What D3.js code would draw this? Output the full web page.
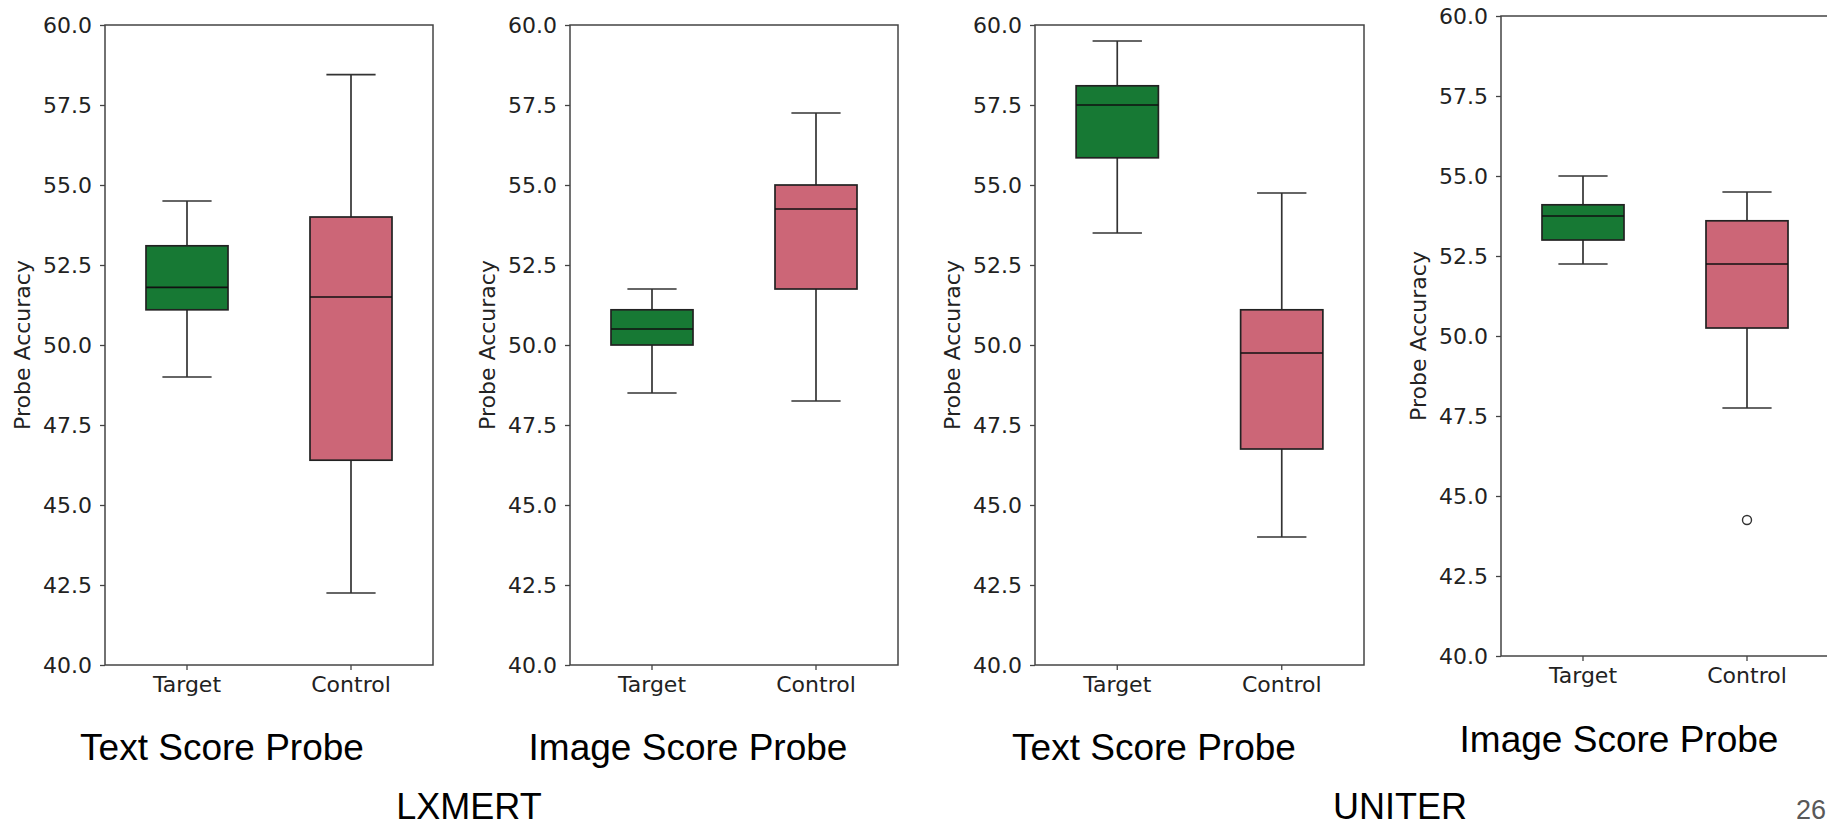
<!DOCTYPE html>
<html>
<head>
<meta charset="utf-8">
<script src="https://cdn.jsdelivr.net/npm/d3@7"></script>
<style>
  body { margin: 0; background: #fff; overflow: hidden; }
  .tick text { font-family: "DejaVu Sans", sans-serif; font-size: 22px; fill: #222; }
  .tick line { stroke: #444; stroke-width: 1.3; }
  .ylabel { font-family: "DejaVu Sans", sans-serif; font-size: 22px; fill: #222; }
  .title { font-family: "Liberation Sans", Arial, sans-serif; font-size: 37px; fill: #000; }
  .model { font-family: "Liberation Sans", Arial, sans-serif; font-size: 36px; fill: #000; }
</style>
</head>
<body>
<script>
// five-number summaries per panel: [whisker low, Q1, median, Q3, whisker high]
var panelTitles = ["Text Score Probe", "Image Score Probe", "Text Score Probe", "Image Score Probe"];
var groups = ["Target", "Control"];
var targetStats = [
    [49.0, 51.1, 51.8, 53.1, 54.5],
    [48.5, 50.0, 50.5, 51.1, 51.75],
    [53.5, 55.85, 57.5, 58.1, 59.5],
    [52.25, 53.0, 53.75, 54.1, 55.0]
];
var controlStats = [
    [42.25, 46.4, 51.5, 54.0, 58.45],
    [48.25, 51.75, 54.25, 55.0, 57.25],
    [44.0, 46.75, 49.75, 51.1, 54.75],
    [47.75, 50.25, 52.25, 53.6, 54.5]
];
var controlOutliers = [[], [], [], [44.25]];
var yTicks = [40.0, 42.5, 45.0, 47.5, 50.0, 52.5, 55.0, 57.5, 60.0];
var models = ["LXMERT", "UNITER"];
var pageNumber = "26";

var colors = {Target: "#177934", Control: "#cc6677"};

// layout of each subplot
var frames = [
    {left: 105, top: 25, w: 328, title: {x: 222, y: 760}},
    {left: 570, top: 25, w: 328, title: {x: 688, y: 760}},
    {left: 1035, top: 25, w: 329, title: {x: 1154, y: 760}},
    {left: 1501, top: 16, w: 328, title: {x: 1619, y: 752}}
];
var plotH = 640;
var modelPos = [{x: 469, y: 819}, {x: 1400, y: 819}];

var svg = d3.select("body").append("svg")
    .attr("width", 1827)
    .attr("height", 827);

frames.forEach(function(f, p) {
    var y = d3.scaleLinear()
        .domain([40, 60])
        .range([f.top + plotH, f.top]);
    var x = d3.scaleBand()
        .domain(groups)
        .range([f.left, f.left + f.w]);
    var bw = x.bandwidth() * 0.5;
    var capW = x.bandwidth() * 0.3;

    var g = svg.append("g");

    var data = [
        {group: "Target", s: targetStats[p], out: []},
        {group: "Control", s: controlStats[p], out: controlOutliers[p]}
    ];

    data.forEach(function(d) {
        var cx = x(d.group) + x.bandwidth() / 2;
        var s = d.s;
        // whiskers
        g.append("line")
            .attr("x1", cx).attr("x2", cx)
            .attr("y1", y(s[3])).attr("y2", y(s[4]))
            .attr("stroke", "#333").attr("stroke-width", 1.7);
        g.append("line")
            .attr("x1", cx).attr("x2", cx)
            .attr("y1", y(s[0])).attr("y2", y(s[1]))
            .attr("stroke", "#333").attr("stroke-width", 1.7);
        // caps
        [s[0], s[4]].forEach(function(v) {
            g.append("line")
                .attr("x1", cx - capW / 2).attr("x2", cx + capW / 2)
                .attr("y1", y(v)).attr("y2", y(v))
                .attr("stroke", "#333").attr("stroke-width", 1.7);
        });
        // box
        g.append("rect")
            .attr("x", cx - bw / 2)
            .attr("y", y(s[3]))
            .attr("width", bw)
            .attr("height", y(s[1]) - y(s[3]))
            .attr("fill", colors[d.group])
            .attr("stroke", "#222")
            .attr("stroke-width", 1.7);
        // median
        g.append("line")
            .attr("x1", cx - bw / 2).attr("x2", cx + bw / 2)
            .attr("y1", y(s[2])).attr("y2", y(s[2]))
            .attr("stroke", "#111").attr("stroke-width", 1.7);
        // fliers
        g.selectAll(null)
            .data(d.out)
            .enter()
            .append("circle")
            .attr("cx", cx)
            .attr("cy", v => y(v))
            .attr("r", 4.5)
            .attr("fill", "none")
            .attr("stroke", "#333")
            .attr("stroke-width", 1.4);
    });

    // axes
    var ya = g.append("g")
        .attr("transform", "translate(" + f.left + ",0)")
        .call(d3.axisLeft(y).tickValues(yTicks).tickFormat(d3.format(".1f"))
            .tickSize(5).tickPadding(8));
    ya.select(".domain").remove();

    var xa = g.append("g")
        .attr("transform", "translate(0," + (f.top + plotH) + ")")
        .call(d3.axisBottom(x).tickSize(5).tickPadding(6));
    xa.select(".domain").remove();

    // frame
    g.append("rect")
        .attr("x", f.left)
        .attr("y", f.top)
        .attr("width", f.w)
        .attr("height", plotH)
        .attr("fill", "none")
        .attr("stroke", "#444")
        .attr("stroke-width", 1.5);

    g.append("text")
        .attr("class", "ylabel")
        .attr("transform", "translate(" + (f.left - 75) + "," + (f.top + plotH / 2) + ") rotate(-90)")
        .attr("text-anchor", "middle")
        .text("Probe Accuracy");

    svg.append("text")
        .attr("class", "title")
        .attr("x", f.title.x)
        .attr("y", f.title.y)
        .attr("text-anchor", "middle")
        .text(panelTitles[p]);
});

svg.selectAll(".model")
    .data(models)
    .enter()
    .append("text")
    .attr("class", "model")
    .attr("x", (d, i) => modelPos[i].x)
    .attr("y", (d, i) => modelPos[i].y)
    .attr("text-anchor", "middle")
    .text(d => d);

svg.append("text")
    .attr("x", 1796)
    .attr("y", 819)
    .attr("font-family", "Liberation Sans, Arial, sans-serif")
    .attr("font-size", 27)
    .attr("fill", "#595959")
    .text(pageNumber);
</script>
</body>
</html>
